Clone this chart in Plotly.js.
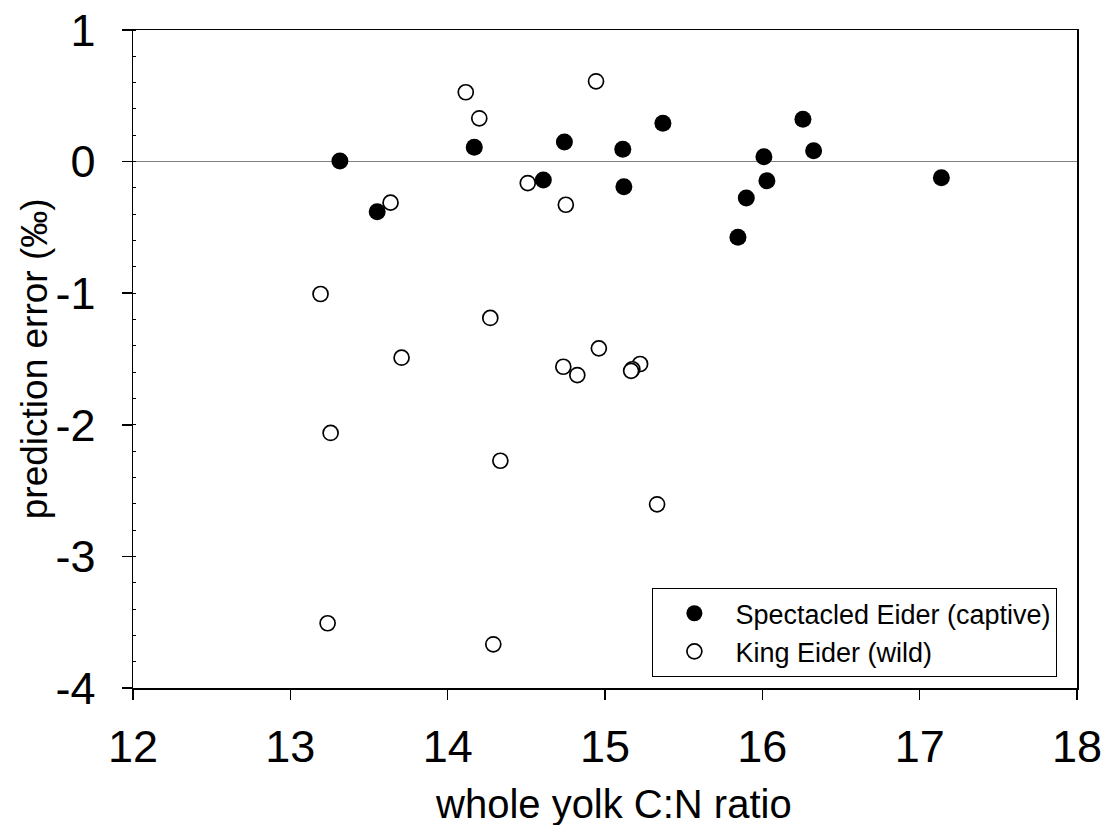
<!DOCTYPE html>
<html>
<head>
<meta charset="utf-8">
<script src="https://cdn.plot.ly/plotly-3.0.1.min.js"></script>
<style>html,body{margin:0;padding:0;background:#fff;}#chart{width:1105px;height:825px;}</style>
</head>
<body>
<div id="chart"></div>
<script>
// Spectacled Eider (captive) - filled circles
const spectacledX = [13.315, 13.552, 14.169, 14.608, 14.742, 15.113, 15.120, 15.368, 15.845, 15.898, 16.010, 16.029, 16.258, 16.326, 17.138];
const spectacledY = [0.005, -0.381, 0.109, -0.140, 0.149, 0.093, -0.191, 0.291, -0.575, -0.277, 0.037, -0.145, 0.321, 0.083, -0.122];

// King Eider (wild) - open circles
const kingX = [13.637, 14.115, 14.201, 14.509, 14.751, 14.943, 13.192, 14.271, 13.707, 14.961, 14.735, 14.824, 15.223, 15.174, 15.166, 13.256, 14.335, 15.331, 13.237, 14.290];
const kingY = [-0.312, 0.527, 0.329, -0.163, -0.328, 0.610, -1.006, -1.188, -1.490, -1.419, -1.559, -1.622, -1.538, -1.578, -1.590, -2.062, -2.273, -2.604, -3.508, -3.668];

const seriesNames = ['Spectacled Eider (captive)', 'King Eider (wild)'];
const xTickVals = [12, 13, 14, 15, 16, 17, 18];
const xTickText = ['12', '13', '14', '15', '16', '17', '18'];
const yTickVals = [-4, -3, -2, -1, 0, 1];
const yTickText = ['-4', '-3', '-2', '-1', '0', '1'];
const xTitle = 'whole yolk C:N ratio';
const yTitle = 'prediction error (‰)';

const FONT = 'Liberation Sans, Arial, Helvetica, sans-serif';

const traces = [
  {
    x: kingX, y: kingY, type: 'scatter', mode: 'markers', name: seriesNames[1],
    legendrank: 2,
    marker: {symbol: 'circle', size: 15, color: '#ffffff', line: {color: '#000000', width: 1.7}}
  },
  {
    x: spectacledX, y: spectacledY, type: 'scatter', mode: 'markers', name: seriesNames[0],
    legendrank: 1,
    marker: {symbol: 'circle', size: 17, color: '#000000', line: {width: 0}}
  }
];

const axisCommon = {
  showgrid: false,
  showline: true, linecolor: '#000', linewidth: 1.5, mirror: true,
  ticks: 'outside', ticklen: 10, tickwidth: 1.5, tickcolor: '#000',
  tickfont: {family: FONT, size: 45, color: '#000'},
  tickmode: 'array'
};

const layout = {
  width: 1105, height: 825,
  margin: {l: 133, r: 28, t: 30, b: 137, pad: 0},
  paper_bgcolor: '#fff', plot_bgcolor: '#fff',
  font: {family: FONT, color: '#000'},
  showlegend: true,
  legend: {
    x: 0.55, y: 0.152, xanchor: 'left', yanchor: 'top',
    bgcolor: '#fff', bordercolor: '#000', borderwidth: 1.2,
    font: {family: FONT, size: 27, color: '#000'},
    itemwidth: 72, tracegroupgap: 0
  },
  xaxis: Object.assign({}, axisCommon, {
    range: [12, 18], tickvals: xTickVals, ticktext: xTickText,
    zeroline: false, ticklabelstandoff: 8
  }),
  yaxis: Object.assign({}, axisCommon, {
    range: [-4, 1], tickvals: yTickVals, ticktext: yTickText,
    zeroline: true, zerolinecolor: '#808080', zerolinewidth: 1.2,
    ticklabelstandoff: 17,
    minor: {ticks: 'inside', ticklen: 3, tickwidth: 1, tickcolor: '#000', dtick: 0.2, showgrid: false}
  }),
  annotations: [
    {text: xTitle, xref: 'paper', yref: 'paper', x: 0.509, y: -0.176,
     xanchor: 'center', yanchor: 'middle', showarrow: false,
     font: {family: FONT, size: 40, color: '#000'}},
    {text: yTitle, xref: 'paper', yref: 'paper', x: -0.105, y: 0.501,
     xanchor: 'center', yanchor: 'middle', showarrow: false, textangle: -90,
     font: {family: FONT, size: 37, color: '#000'}}
  ]
};

Plotly.newPlot('chart', traces, layout, {displayModeBar: false, staticPlot: true});
</script>
</body>
</html>
